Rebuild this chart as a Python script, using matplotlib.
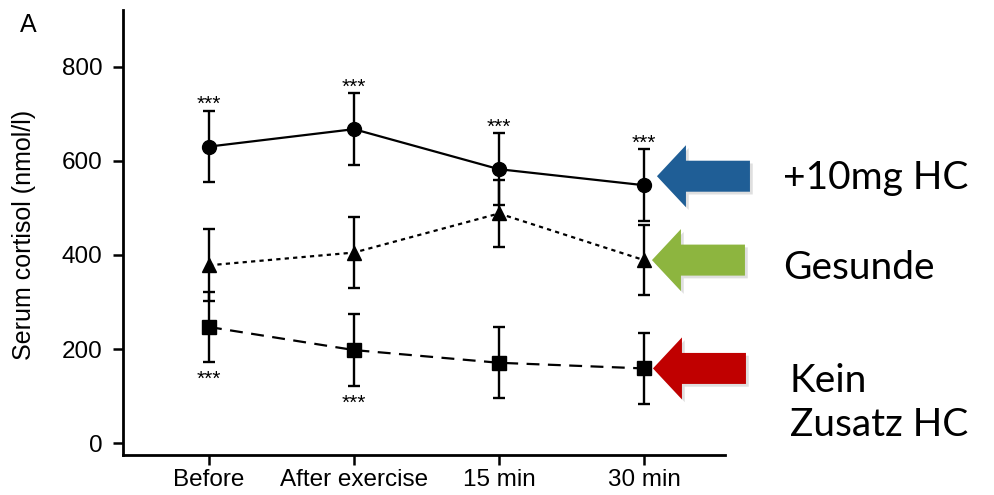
import matplotlib
matplotlib.use('Agg')
import matplotlib.pyplot as plt
from matplotlib.patches import Polygon
from matplotlib.transforms import IdentityTransform
import matplotlib.patheffects as pe

plt.rcParams['font.family'] = ['Liberation Sans', 'DejaVu Sans']

# ---- data ----
timepoints = ["Before", "After exercise", "15 min", "30 min"]
hc10_mean = [630, 667, 582, 548]
hc10_err = [76, 76, 76, 76]
healthy_mean = [378, 405, 488, 389]
healthy_err = [76, 76, 71, 75]
nohc_mean = [247, 198, 171, 159]
nohc_err = [74, 76, 75, 75]
hc10_sig = [True, True, True, True]      # *** above
nohc_sig = [True, True, False, False]    # *** below
yticks = [0, 200, 400, 600, 800]
arrow_labels = ["+10mg HC", "Gesunde", "Kein\nZusatz HC"]
arrow_colors = ["#1F5E96", "#8DB53F", "#C00000"]

W, H = 995, 495
fig = plt.figure(figsize=(W / 100, H / 100), dpi=100)
ax = fig.add_axes([123 / W, 1 - 455 / H, (725 - 123) / W, (455 - 10) / H])

x = list(range(len(timepoints)))

series = [
    (hc10_mean, hc10_err, 'o', '-'),
    (healthy_mean, healthy_err, '^', (0, (1.9, 1.9))),
    (nohc_mean, nohc_err, 's', (0, (5.8, 3.8))),
]
for mean, err, mk, ls in series:
    ax.plot(x, mean, color='black', lw=1.6, ls=ls, zorder=2)
    ax.errorbar(x, mean, yerr=err, fmt=mk, color='black', ms=10,
                capsize=4.5, elinewidth=1.7, capthick=1.7, zorder=3)

for xi, m, e, s in zip(x, hc10_mean, hc10_err, hc10_sig):
    if s:
        ax.annotate('***', (xi, m + e), xytext=(0, 0.7), textcoords='offset points',
                    ha='center', va='baseline', fontsize=15)
for xi, m, e, s in zip(x, nohc_mean, nohc_err, nohc_sig):
    if s:
        ax.annotate('***', (xi, m - e), xytext=(0, -16.7), textcoords='offset points',
                    ha='center', va='baseline', fontsize=15)

ax.set_xlim(-0.593, 3.559)
ax.set_ylim(-24.8, 920)
ax.set_xticks(x)
ax.set_xticklabels(timepoints)
ax.set_yticks(yticks)
ax.tick_params(axis='both', length=7, width=1.8, labelsize=17.5, direction='out')
ax.tick_params(axis='y', pad=8)
ax.tick_params(axis='x', pad=3)
for side in ['top', 'right']:
    ax.spines[side].set_visible(False)
for side in ['left', 'bottom']:
    ax.spines[side].set_linewidth(2.0)

fig.text(24 / W, 1 - 235 / H, "Serum cortisol (nmol/l)", rotation=90,
         ha='center', va='center', fontsize=18)
fig.text(28 / W, 1 - 25 / H, "A", ha='center', va='center', fontsize=18)

# ---- arrows pointing at last points ----
last_means = [hc10_mean[-1], healthy_mean[-1], nohc_mean[-1]]
dx_list = [13, 8, 9]
dy_list = [9, 0, 0]
shape = [(0, 0), (29, 31), (29, 15.5), (93, 15.5), (93, -15.5), (29, -15.5), (29, -31)]
for m, col, dx, dy in zip(last_means, arrow_colors, dx_list, dy_list):
    px, py = ax.transData.transform((x[-1], m))
    tx, ty = px + dx, py + dy
    verts = [(tx + a, ty + b) for a, b in shape]
    poly = Polygon(verts, closed=True, facecolor=col, edgecolor='none',
                   transform=IdentityTransform())
    poly.set_path_effects([pe.SimplePatchShadow(offset=(2, -2), shadow_rgbFace='gray', alpha=0.25),
                           pe.Normal()])
    fig.add_artist(poly)

label_pos = [(783, 178), (783, 268), (790, 403)]
for (lx, ly), lab in zip(label_pos, arrow_labels):
    fig.text(lx / W, 1 - ly / H, lab, ha='left', va='center', fontsize=28,
             family=['Lato', 'DejaVu Sans'], linespacing=1.3)

fig.savefig('out.png', dpi=100)
